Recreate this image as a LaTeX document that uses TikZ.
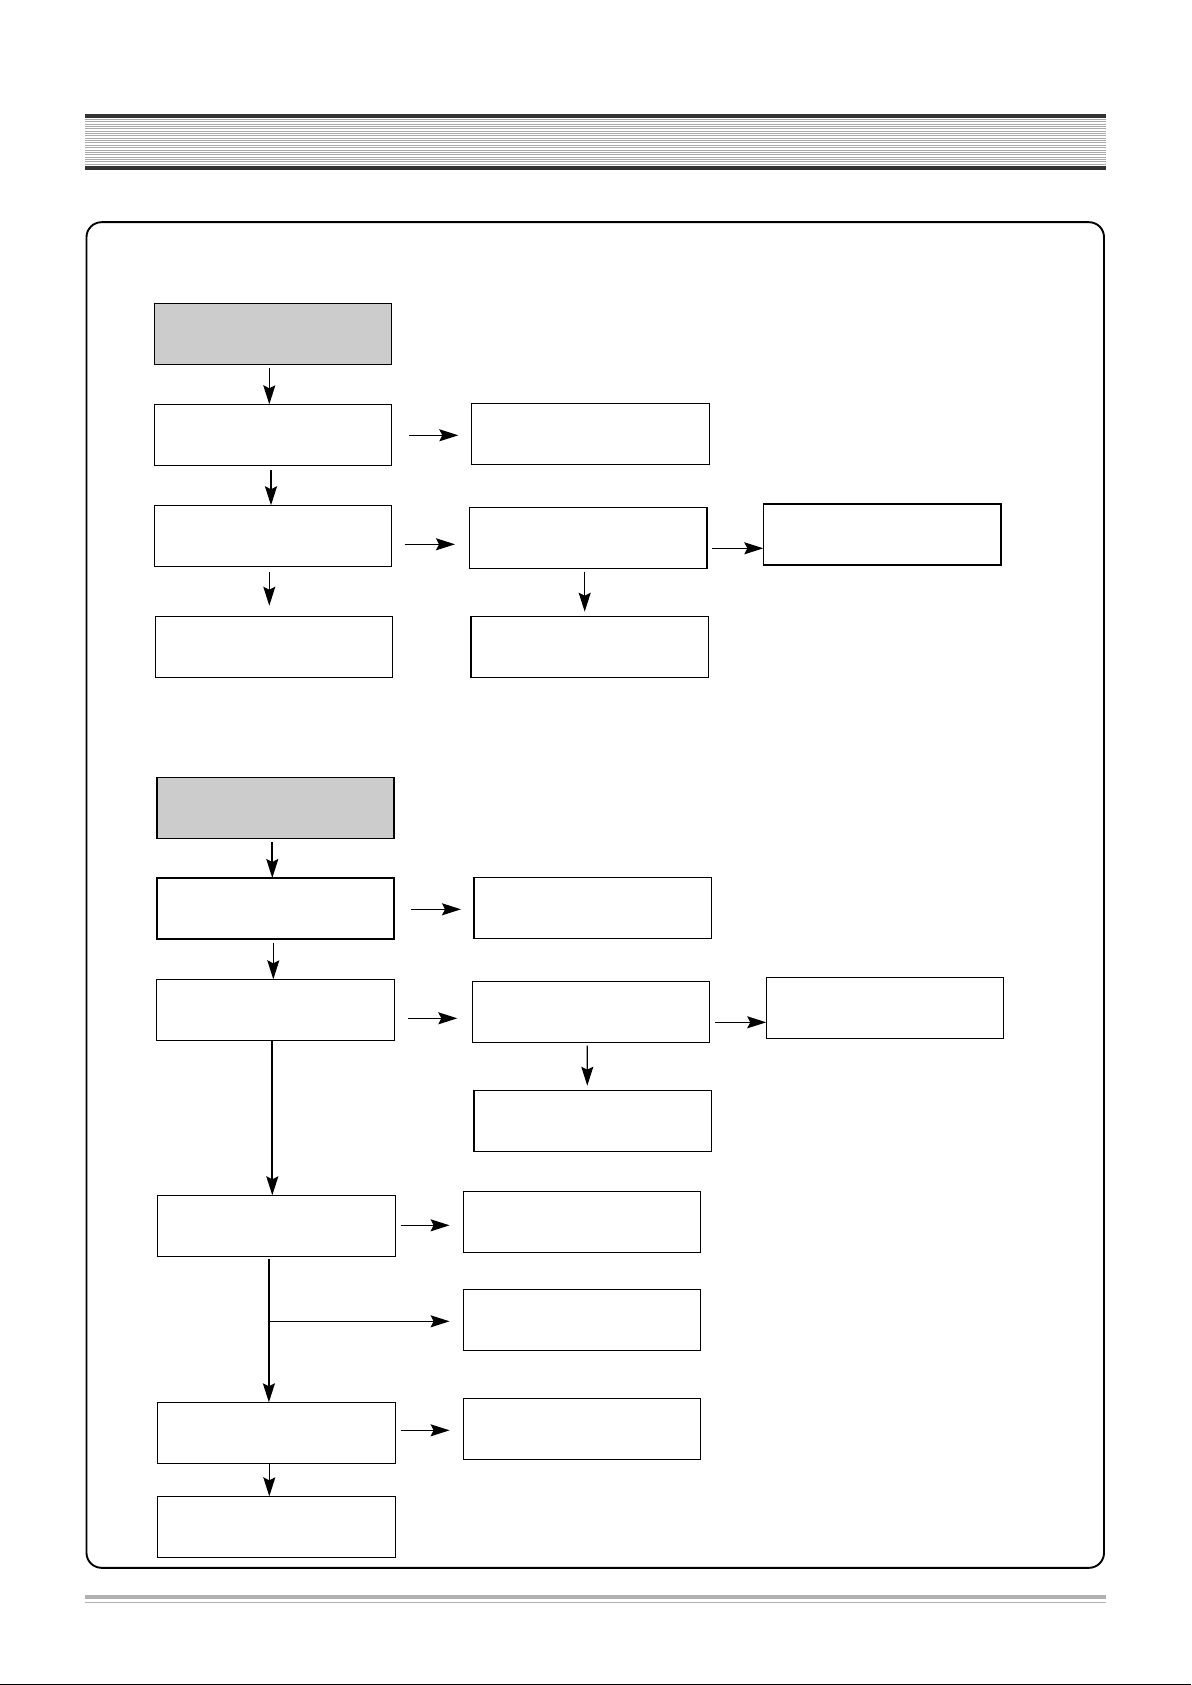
\documentclass[tikz,border=0pt]{standalone}
\usetikzlibrary{calc,arrows.meta}
\definecolor{boxgray}{HTML}{CCCCCC}
\definecolor{headdark}{HTML}{333333}
\definecolor{stripe}{HTML}{AAAAAA}
\definecolor{footgray}{HTML}{B0B0B0}
\begin{document}
\begin{tikzpicture}[x=0.5pt,y=-0.5pt,
  box/.style={draw, line width=0.65pt, minimum width=118.75pt, minimum height=30.5pt, inner sep=0pt, outer sep=0pt},
  thickbox/.style={box, line width=0.9pt},
  grey/.style={fill=boxgray},
  arr/.style={-{Stealth[length=9.5pt,width=6pt,inset=1.5pt]}, line width=0.6pt},
  thickarr/.style={arr, line width=0.85pt},
  frame/.style={line width=0.95pt, rounded corners=7.5pt}]
\useasboundingbox (0,0) rectangle (1191,1685);
% header band
\fill[headdark] (85,114) rectangle (1106,118);
\fill[headdark] (85,166) rectangle (1106,170);
\foreach \i in {0,...,19} \fill[stripe] (85,{118.8+\i*2.37}) rectangle (1106,{119.8+\i*2.37});
% footer band
\fill[footgray] (85,1595) rectangle (1106,1599);
\draw[footgray, line width=0.5pt] (85,1602.3) -- (1106,1602.3);
\draw[line width=0.5pt] (0,1684.5) -- (1191,1684.5);
% frame
\draw[frame] (86.5,222.2) rectangle (1104,1567.8);
% section 1
\node[box,grey] (g1) at (273,333.8) {};
\node[box] (a1) at (273,434.8) {};
\node[box] (b1) at (590.5,433.8) {};
\node[box] (a2) at (273,535.8) {};
\node[box] (b2) at (588.3,537.8) {};
\node[thickbox] (c2) at (882.3,534.3) {};
\node[box] (a3) at (274,646.8) {};
\node[box] (b3) at (589.8,646.8) {};
\draw[arr] ($(g1.south)+(-3.7,3.4)$) -- ($(a1.north)+(-3.7,0)$);
\draw[arr] ($(a1.east)+(17.25,0.5)$) -- ($(b1.west)+(-13.45,1.5)$);
\draw[thickarr] ($(a1.south)+(-2,4.7)$) -- ($(a2.north)+(-2,0)$);
\draw[arr] ($(a2.east)+(13.25,8.5)$) -- ($(b2.west)+(-14.55,6.5)$);
\draw[arr] ($(b2.east)+(4.95,10.5)$) -- ($(c2.west)+(-0.25,14)$);
\draw[arr] ($(a2.south)+(-3.7,5.7)$) -- ($(a3.north)+(-4.7,-10.6)$);
\draw[arr] ($(b2.south)+(-3.6,3.4)$) -- ($(b3.north)+(-5.1,-4.6)$);
% section 2
\node[thickbox,grey] (g2) at (275.5,808) {};
\node[thickbox] (d1) at (275.5,908.7) {};
\node[box] (e1) at (592.8,907.8) {};
\node[box] (d2) at (275.5,1010) {};
\node[box] (e2) at (591,1011.8) {};
\node[box] (f2) at (885,1008) {};
\node[box] (e3) at (592.8,1120.8) {};
\node[box] (d3) at (276.5,1225.8) {};
\node[box] (h1) at (582,1221.8) {};
\node[box] (h2) at (582,1319.8) {};
\node[box] (d4) at (276.5,1432.8) {};
\node[box] (h3) at (582,1428.8) {};
\node[box] (d5) at (276.5,1526.8) {};
\draw[thickarr] ($(g2.south)+(-3.2,3.5)$) -- ($(d1.north)+(-3.2,-0.2)$);
\draw[arr] ($(d1.east)+(16.75,0.6)$) -- ($(e1.west)+(-13.05,1.5)$);
\draw[arr] ($(d1.south)+(-2.2,4.1)$) -- ($(d2.north)+(-2.2,-0.2)$);
\draw[arr] ($(d2.east)+(13.75,8.3)$) -- ($(e2.west)+(-14.95,6.5)$);
\draw[arr] ($(e2.east)+(5.25,10.5)$) -- ($(f2.west)+(0,14.3)$);
\draw[arr] ($(e2.south)+(-3.7,3.4)$) -- ($(e3.north)+(-5.5,-4.6)$);
\draw[thickarr] ($(d2.south)+(-3.2,0)$) -- ($(d3.north)+(-4.2,0)$);
\draw[arr] ($(d3.east)+(5.35,-0.5)$) -- ($(h1.west)+(-13.65,3.5)$);
\draw[thickarr] ($(d3.south)+(-7.6,2.7)$) -- ($(d4.north)+(-7.6,0)$);
\coordinate (br) at ($(d3.south)+(-9,65)$);
\draw[arr] (br) -- ($(h2.west)+(-13.65,1.5)$);
\draw[arr] ($(d4.east)+(5.35,-2.5)$) -- ($(h3.west)+(-13.65,1.5)$);
\draw[arr] ($(d4.south)+(-7.2,0)$) -- ($(d5.north)+(-7.2,0)$);
\end{tikzpicture}
\end{document}
